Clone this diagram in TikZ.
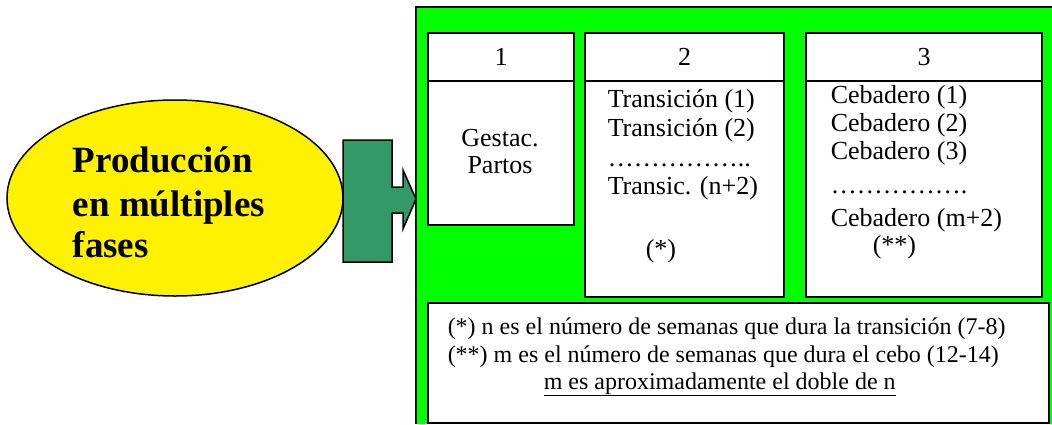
\documentclass[tikz,border=0pt]{standalone}
\usepackage{fontspec}
\setmainfont{Liberation Serif}
\usepackage{tikz}
\usetikzlibrary{shapes.geometric}
\definecolor{fasegreen}{HTML}{00FF00}
\definecolor{flechagreen}{HTML}{339966}
\newcommand{\boxfont}{\fontsize{26}{31}\selectfont}
\newcommand{\notefont}{\fontsize{24}{28}\selectfont}
\tikzset{
  box/.style={draw, fill=white, line width=2pt, inner sep=0pt, anchor=north west},
  linea/.style={anchor=base west, font=\boxfont, inner sep=0pt},
  nota/.style={anchor=base west, font=\notefont, inner sep=0pt}
}
\begin{document}
\begin{tikzpicture}[x=1pt, y=-1pt, line width=1.5pt]
\useasboundingbox (0,0) rectangle (1052,424);
% elipse y flecha
\node[ellipse, draw, fill=yellow, minimum width=336pt, minimum height=196pt] (prod) at (175,198) {};
\foreach \y/\t in {172/Producción, 216/{en múltiples}, 257/fases}
  \node[anchor=base west, inner sep=0pt, font=\fontsize{37}{43}\selectfont\bfseries] at (72,\y) {\t};
\draw[fill=flechagreen] (343,140) -- (392,140) -- (392,187) -- (403,187) -- (403,170) -- (416,199)
  -- (403,229) -- (403,213) -- (392,213) -- (392,262) -- (343,262) -- cycle;
% fondo verde
\fill[fasegreen] (416,7) rectangle (1052,424);
\draw (1052,7) -- (416,7) -- (416,424);
% fase 1
\node[box, minimum width=146pt, minimum height=48pt, font=\boxfont] (h1) at (427,32) {1};
\node[box, minimum width=146pt, minimum height=144pt] (b1) at (427,80) {};
\node[linea, anchor=base] at (500,146) {Gestac.};
\node[linea, anchor=base] at (500,173) {Partos};
% fase 2
\node[box, minimum width=199pt, minimum height=48pt, font=\boxfont] (h2) at (584,32) {2};
\node[box, minimum width=199pt, minimum height=216pt] (b2) at (584,80) {};
\foreach \y/\t in {107/{Transición (1)}, 136/{Transición (2)}, 166/{……………..}, 194/{Transic. (n+2)}}
  \node[linea] at (607,\y) {\t};
\node[linea] at (645,257) {(*)};
% fase 3
\node[box, minimum width=236pt, minimum height=48pt, font=\boxfont] (h3) at (805,32) {3};
\node[box, minimum width=236pt, minimum height=216pt] (b3) at (805,80) {};
\foreach \y/\t in {103/{Cebadero (1)}, 131/{Cebadero (2)}, 159/{Cebadero (3)}, 193/{…………….}, 226/{Cebadero (m+2)}}
  \node[linea] at (830,\y) {\t};
\node[linea] at (872,253) {(**)};
% notas
\node[box, minimum width=621pt, minimum height=120pt] (notas) at (427,302) {};
\node[nota] at (447,334) {(*) n es el número de semanas que dura la transición (7-8)};
\node[nota] at (447,362) {(**) m es el número de semanas que dura el cebo (12-14)};
\node[nota] at (543,389) {\underline{m es aproximadamente el doble de n}};
\end{tikzpicture}
\end{document}
